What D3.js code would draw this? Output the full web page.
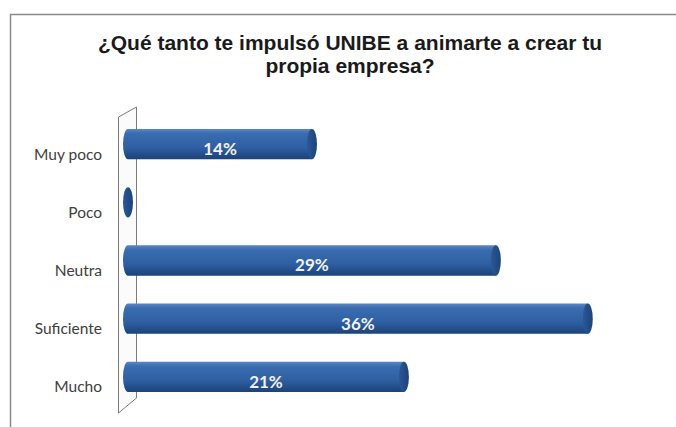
<!DOCTYPE html>
<html><head><meta charset="utf-8">
<script src="https://cdn.jsdelivr.net/npm/d3@7/dist/d3.min.js"></script>
<style>html,body{margin:0;padding:0;background:#fff;}svg{display:block;}</style>
</head><body>
<script>
const categories = ["Muy poco", "Poco", "Neutra", "Suficiente", "Mucho"];
const values = [14.29, 0, 28.57, 35.71, 21.43];
const valueLabels = ["14%", "", "29%", "36%", "21%"];
const titleLines = ["¿Qué tanto te impulsó UNIBE a animarte a crear tu", "propia empresa?"];

const W = 676, H = 427;
const svg = d3.select("body").append("svg").attr("width", W).attr("height", H);

const defs = svg.append("defs");
const grad = defs.append("linearGradient").attr("id", "barGrad").attr("x1", 0).attr("y1", 0).attr("x2", 0).attr("y2", 1);
grad.append("stop").attr("offset", "0%").attr("stop-color", "#5a86c4");
grad.append("stop").attr("offset", "15%").attr("stop-color", "#3a6cb0");
grad.append("stop").attr("offset", "60%").attr("stop-color", "#2f60a4");
grad.append("stop").attr("offset", "100%").attr("stop-color", "#1c4279");
const capGrad = defs.append("linearGradient").attr("id", "capGrad").attr("x1", 0).attr("y1", 0).attr("x2", 1).attr("y2", 0);
capGrad.append("stop").attr("offset", "0%").attr("stop-color", "#2a5898");
capGrad.append("stop").attr("offset", "100%").attr("stop-color", "#1d4378");

// frame
svg.append("line").attr("x1", 10).attr("y1", 14.5).attr("x2", W).attr("y2", 14.5).attr("stroke", "#8a8a8a").attr("stroke-width", 1.5);
svg.append("line").attr("x1", 10.5).attr("y1", 14).attr("x2", 10.5).attr("y2", H).attr("stroke", "#8a8a8a").attr("stroke-width", 1.5);

// title
svg.append("text").attr("x", 350).attr("y", 50)
  .attr("text-anchor", "middle")
  .style("font-family", "'Liberation Sans', Arial, sans-serif").style("font-weight", "bold").style("font-size", "21px").attr("fill", "#1a1a1a")
  .selectAll("tspan").data(titleLines).join("tspan")
  .attr("x", 350).attr("dy", (d, i) => i === 0 ? 0 : 23).text(d => d);

const x = d3.scaleLinear().domain([0, 40]).range([128, 643]);
const y = d3.scaleBand().domain(categories).range([115, 406]).paddingInner(0.48).paddingOuter(0.24);

// 3D wall
const wall = d3.path();
wall.moveTo(118.5, 117); wall.lineTo(136.5, 107); wall.lineTo(136.5, 398); wall.lineTo(118.5, 413); wall.closePath();
svg.append("path").attr("d", wall.toString()).attr("fill", "#fbfbfb").attr("stroke", "#7a7a7a").attr("stroke-width", 1);

// category labels
svg.append("g").selectAll("text").data(categories).join("text")
  .attr("x", 102).attr("y", d => y(d) + y.bandwidth() / 2 + 10)
  .attr("dy", "0.35em").attr("text-anchor", "end")
  .style("font-family", "Lato, 'Open Sans', sans-serif").style("font-size", "15.5px").attr("fill", "#404040")
  .text(d => d);

const rx = 5;
const bars = svg.append("g").selectAll("g").data(categories).join("g");
bars.each(function (d, i) {
  const g = d3.select(this);
  const top = y(d), h = y.bandwidth(), ry = h / 2;
  const x0 = x(0), x1 = x(values[i]);
  if (values[i] > 0) {
    const p = d3.path();
    p.moveTo(x0, top); p.lineTo(x1, top);
    p.lineTo(x1, top + h); p.lineTo(x0, top + h);
    g.append("path").attr("d", p.toString() + `A${rx},${ry} 0 0 1 ${x0},${top}Z`).attr("fill", "url(#barGrad)");
  }
  g.append("ellipse").attr("cx", x1).attr("cy", top + ry).attr("rx", rx).attr("ry", ry).attr("fill", "url(#capGrad)");
});

svg.append("g").selectAll("text").data(categories).join("text")
  .attr("x", (d, i) => (x(0) + x(values[i])) / 2)
  .attr("y", d => y(d) + y.bandwidth() / 2 + 5)
  .attr("dy", "0.35em").attr("text-anchor", "middle")
  .style("font-family", "Lato, 'Open Sans', sans-serif").style("font-weight", "bold").style("font-size", "17px").attr("fill", "#f2f2f2")
  .text((d, i) => valueLabels[i]);
</script>
</body></html>
